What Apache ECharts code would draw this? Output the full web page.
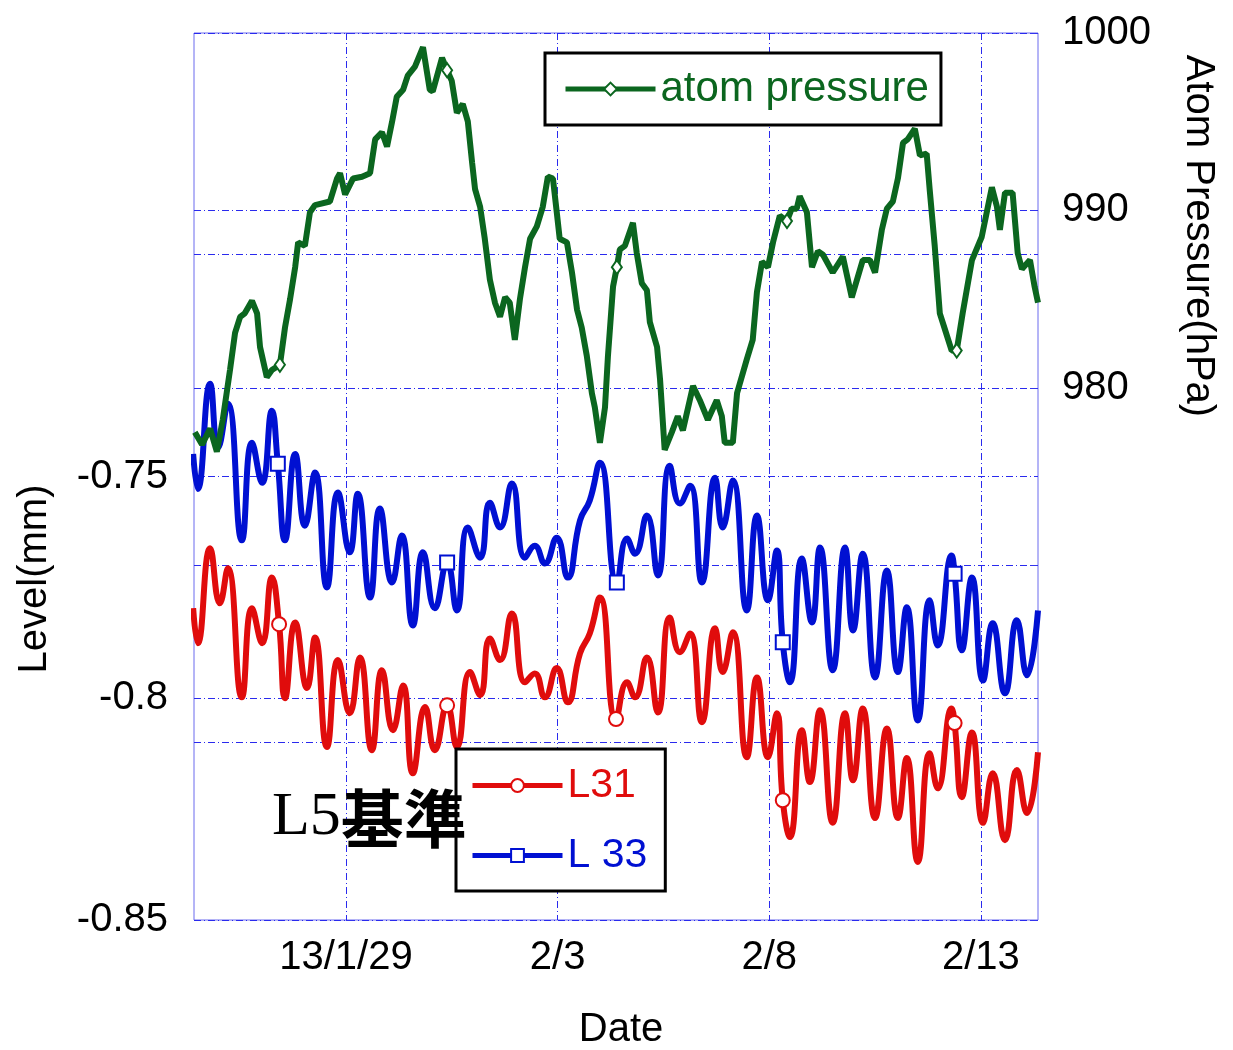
<!DOCTYPE html>
<html>
<head>
<meta charset="utf-8">
<title>Level / Atom Pressure</title>
<script src="https://cdn.jsdelivr.net/npm/echarts@6/dist/echarts.min.js"></script>
<style>
  html, body { margin: 0; padding: 0; background: #fff; }
  #chart { width: 1233px; height: 1050px; }
</style>
</head>
<body>
<div id="chart"></div>
<script>
// x values: days counted from 2013/1/29 00:00
var dateTicks = [0, 5, 10, 15];
var dateLabels = ['13/1/29', '2/3', '2/8', '2/13'];
var levelLabelValues = [-0.85, -0.8, -0.75];
var pressureLabelValues = [980, 990, 1000];
var markerDays = [-1.57, 2.4, 6.4, 10.35, 14.4];

// atom pressure (hPa)
var pressure = [
  [-3.57, 977.5], [-3.40, 976.8], [-3.21, 977.7], [-3.05, 976.4], [-2.91, 978.2], [-2.74, 981.0],
  [-2.62, 983.1], [-2.50, 984.0], [-2.39, 984.2], [-2.22, 984.9], [-2.10, 984.2], [-2.03, 982.3],
  [-1.87, 980.6], [-1.75, 981.0], [-1.56, 981.3], [-1.44, 983.4], [-1.32, 985.0], [-1.20, 986.8],
  [-1.13, 988.2], [-0.97, 988.0], [-0.85, 989.9], [-0.73, 990.3], [-0.38, 990.5], [-0.21, 991.8],
  [-0.14, 992.1], [-0.02, 990.9], [0.17, 991.8], [0.38, 991.9], [0.57, 992.1], [0.69, 994.0],
  [0.85, 994.4], [0.97, 993.6], [1.09, 995.0], [1.20, 996.4], [1.35, 996.8], [1.46, 997.6],
  [1.63, 998.1], [1.82, 999.2], [1.98, 996.8], [2.05, 996.7], [2.27, 998.6], [2.39, 997.9],
  [2.50, 997.3], [2.62, 995.5], [2.76, 996.0], [2.88, 995.0], [2.98, 992.7], [3.05, 991.2],
  [3.17, 990.2], [3.28, 988.4], [3.40, 986.1], [3.52, 984.8], [3.64, 984.0], [3.76, 985.1],
  [3.87, 984.8], [3.99, 982.7], [4.11, 985.0], [4.23, 986.8], [4.35, 988.4], [4.51, 989.1],
  [4.65, 990.2], [4.77, 991.9], [4.89, 991.8], [4.98, 989.9], [5.05, 988.4], [5.22, 988.2],
  [5.34, 986.5], [5.46, 984.4], [5.57, 983.4], [5.69, 981.8], [5.81, 979.7], [5.88, 978.9],
  [6.00, 976.9], [6.12, 978.9], [6.19, 981.8], [6.31, 985.7], [6.40, 986.8], [6.47, 987.8],
  [6.59, 988.0], [6.78, 989.3], [6.87, 987.6], [6.99, 985.9], [7.11, 985.5], [7.18, 983.7],
  [7.35, 982.3], [7.42, 980.5], [7.53, 976.5], [7.70, 977.5], [7.84, 978.4], [7.96, 977.6],
  [8.20, 980.1], [8.36, 979.3], [8.55, 978.2], [8.76, 979.3], [8.88, 978.4], [8.95, 976.9],
  [9.14, 976.9], [9.24, 979.7], [9.47, 981.6], [9.61, 982.7], [9.71, 985.4], [9.83, 987.1],
  [9.97, 986.8], [10.09, 988.2], [10.25, 989.7], [10.42, 989.4], [10.53, 990.1], [10.65, 990.1],
  [10.72, 990.8], [10.89, 989.9], [11.01, 986.8], [11.15, 987.7], [11.27, 987.5], [11.50, 986.5],
  [11.74, 987.4], [11.95, 985.1], [12.21, 987.2], [12.38, 987.2], [12.50, 986.5], [12.66, 988.9],
  [12.78, 990.1], [12.92, 990.5], [13.04, 991.8], [13.16, 993.8], [13.27, 994.0], [13.44, 994.6],
  [13.56, 993.1], [13.72, 993.2], [13.79, 991.2], [13.91, 988.0], [14.03, 984.2], [14.15, 983.3],
  [14.31, 982.1], [14.43, 982.1], [14.57, 984.2], [14.79, 987.2], [15.02, 988.5], [15.14, 989.9],
  [15.26, 991.3], [15.38, 990.2], [15.45, 988.9], [15.57, 991.0], [15.75, 991.0], [15.87, 987.6],
  [15.97, 986.7], [16.16, 987.2], [16.27, 985.7], [16.35, 984.8]
];

// L 33 level (mm)
var l33 = [
  [-3.61, -0.7449], [-3.50, -0.7528], [-3.21, -0.7291], [-3.02, -0.7435], [-2.79, -0.7336],
  [-2.46, -0.7644], [-2.22, -0.7424], [-1.98, -0.7514], [-1.75, -0.7352], [-1.61, -0.7471],
  [-1.44, -0.7644], [-1.20, -0.7449], [-0.97, -0.7611], [-0.73, -0.7491], [-0.45, -0.7750],
  [-0.19, -0.7536], [0.09, -0.7671], [0.28, -0.7539], [0.57, -0.7773], [0.80, -0.7572],
  [1.09, -0.7739], [1.32, -0.7633], [1.58, -0.7836], [1.82, -0.7671], [2.10, -0.7797],
  [2.39, -0.7694], [2.62, -0.7802], [2.88, -0.7615], [3.17, -0.7683], [3.40, -0.7559],
  [3.64, -0.7615], [3.92, -0.7516], [4.23, -0.7683], [4.46, -0.7656], [4.70, -0.7696],
  [4.98, -0.7638], [5.24, -0.7728], [5.53, -0.7599], [5.76, -0.7554], [6.00, -0.7469],
  [6.40, -0.7739], [6.64, -0.7640], [6.83, -0.7674], [7.11, -0.7588], [7.37, -0.7723],
  [7.65, -0.7476], [7.89, -0.7561], [8.13, -0.7521], [8.41, -0.7739], [8.72, -0.7503],
  [8.90, -0.7615], [9.14, -0.7509], [9.47, -0.7802], [9.71, -0.7588], [9.97, -0.7779],
  [10.18, -0.7667], [10.32, -0.7874], [10.49, -0.7964], [10.77, -0.7685], [11.01, -0.7829],
  [11.20, -0.7660], [11.50, -0.7937], [11.79, -0.7660], [11.98, -0.7847], [12.21, -0.7674],
  [12.50, -0.7953], [12.78, -0.7712], [13.04, -0.7941], [13.25, -0.7795], [13.51, -0.8050],
  [13.79, -0.7779], [13.98, -0.7881], [14.31, -0.7678], [14.38, -0.7719], [14.55, -0.7892],
  [14.79, -0.7728], [15.05, -0.7960], [15.28, -0.7831], [15.57, -0.7989], [15.85, -0.7824],
  [16.09, -0.7948], [16.35, -0.7802]
];

// L31 level (mm)
var l31 = [
  [-3.61, -0.7797], [-3.50, -0.7876], [-3.21, -0.7662], [-2.98, -0.7786], [-2.79, -0.7707],
  [-2.46, -0.7998], [-2.22, -0.7797], [-1.98, -0.7876], [-1.75, -0.7728], [-1.58, -0.7833],
  [-1.44, -0.8000], [-1.20, -0.7829], [-0.92, -0.7977], [-0.73, -0.7863], [-0.45, -0.8110],
  [-0.19, -0.7914], [0.09, -0.8034], [0.33, -0.7908], [0.61, -0.8117], [0.85, -0.7937],
  [1.11, -0.8072], [1.35, -0.7971], [1.58, -0.8169], [1.87, -0.8020], [2.10, -0.8117],
  [2.39, -0.8016], [2.62, -0.8110], [2.93, -0.7941], [3.17, -0.7993], [3.40, -0.7865],
  [3.64, -0.7914], [3.92, -0.7809], [4.23, -0.7964], [4.46, -0.7944], [4.70, -0.7998],
  [4.98, -0.7932], [5.24, -0.8009], [5.53, -0.7899], [5.76, -0.7854], [6.00, -0.7773],
  [6.38, -0.8047], [6.64, -0.7964], [6.83, -0.7998], [7.11, -0.7908], [7.37, -0.8032],
  [7.65, -0.7818], [7.89, -0.7896], [8.13, -0.7854], [8.41, -0.8054], [8.72, -0.7842],
  [8.90, -0.7941], [9.14, -0.7851], [9.47, -0.8133], [9.71, -0.7953], [9.97, -0.8133],
  [10.18, -0.8034], [10.32, -0.8230], [10.49, -0.8313], [10.77, -0.8072], [10.96, -0.8189],
  [11.20, -0.8027], [11.50, -0.8281], [11.79, -0.8034], [11.98, -0.8185], [12.21, -0.8023],
  [12.50, -0.8270], [12.78, -0.8068], [13.04, -0.8270], [13.25, -0.8135], [13.51, -0.8369],
  [13.79, -0.8124], [13.98, -0.8203], [14.31, -0.8023], [14.38, -0.8056], [14.55, -0.8223],
  [14.79, -0.8077], [15.05, -0.8281], [15.28, -0.8169], [15.57, -0.8320], [15.85, -0.8162],
  [16.09, -0.8259], [16.35, -0.8122]
];

var GREEN = '#0b661f';
var RED = '#e00c0c';
var BLUE = '#0010d2';
var GRIDBLUE = '#2a2aee';
var FONT = "'Liberation Sans', Arial, sans-serif";

// only a few points carry a hollow marker
function withMarkers(points, symbol) {
  var marked = markerDays.map(function (d) {
    var best = 0;
    points.forEach(function (p, i) {
      if (Math.abs(p[0] - d) < Math.abs(points[best][0] - d)) best = i;
    });
    return best;
  });
  return points.map(function (p, i) {
    return { value: p, symbol: marked.indexOf(i) >= 0 ? symbol : 'none' };
  });
}

var splitStyle = { show: true, lineStyle: { color: GRIDBLUE, width: 1, type: [7, 3, 1, 3] } };

var chart = echarts.init(document.getElementById('chart'));
chart.setOption({
  animation: false,
  backgroundColor: '#fff',
  grid: {
    left: 194, right: 195, top: 33, bottom: 130,
    show: true, borderColor: '#6a6aee', borderWidth: 1
  },
  xAxis: {
    type: 'value',
    min: -3.59,
    max: 16.35,
    axisLine: { show: false },
    axisTick: { show: false, customValues: dateTicks },
    axisLabel: {
      customValues: dateTicks,
      formatter: function (v) { return dateLabels[dateTicks.indexOf(v)]; },
      fontSize: 40, fontFamily: FONT, color: '#000', margin: 18
    },
    splitLine: splitStyle
  },
  yAxis: [
    {
      type: 'value',
      min: -0.85, max: -0.65, interval: 0.05,
      axisLine: { show: false },
      axisTick: { show: true, inside: true, length: 8, lineStyle: { color: '#3333ee' } },
      axisLabel: {
        customValues: levelLabelValues,
        formatter: function (v) { return String(v); },
        fontSize: 40, fontFamily: FONT, color: '#000', margin: 26
      },
      splitLine: splitStyle
    },
    {
      type: 'value',
      min: 950, max: 1000, interval: 10,
      position: 'right',
      axisLine: { show: false },
      axisTick: { show: true, inside: true, length: 8, lineStyle: { color: '#3333ee' } },
      axisLabel: {
        customValues: pressureLabelValues,
        formatter: function (v) { return String(v); },
        fontSize: 40, fontFamily: FONT, color: '#000', margin: 24
      },
      splitLine: splitStyle
    }
  ],
  legend: [
    {
      data: [{ name: 'atom pressure', textStyle: { color: GREEN } }],
      left: 545, top: 53,
      backgroundColor: '#fff', borderColor: '#000', borderWidth: 3,
      padding: [15, 12, 15, 18],
      itemWidth: 90, itemHeight: 16,
      lineStyle: { width: 5 },
      textStyle: { fontSize: 42, fontFamily: FONT }
    },
    {
      data: [
        { name: 'L31', textStyle: { color: RED } },
        { name: 'L 33', textStyle: { color: BLUE } }
      ],
      orient: 'vertical',
      left: 456, top: 749,
      backgroundColor: '#fff', borderColor: '#000', borderWidth: 3,
      padding: [16, 18, 15, 14],
      itemGap: 29,
      itemWidth: 90, itemHeight: 16,
      lineStyle: { width: 5 },
      textStyle: { fontSize: 41, fontFamily: FONT }
    }
  ],
  graphic: [
    {
      type: 'text', x: 35, y: 579, rotation: Math.PI / 2,
      style: { text: 'Level(mm)', fontSize: 40, fontFamily: FONT, fill: '#000', align: 'center', verticalAlign: 'middle' }
    },
    {
      type: 'text', x: 1198, y: 236, rotation: -Math.PI / 2,
      style: { text: 'Atom Pressure(hPa)', fontSize: 40, fontFamily: FONT, fill: '#000', align: 'center', verticalAlign: 'middle' }
    },
    {
      type: 'text', x: 621, y: 1030,
      style: { text: 'Date', fontSize: 40, fontFamily: FONT, fill: '#000', align: 'center', verticalAlign: 'middle' }
    },
    {
      type: 'text', x: 272, y: 818, z: 100,
      style: {
        text: '{a|L5}{b|基準}',
        verticalAlign: 'middle',
        rich: {
          a: { fontSize: 62, fontFamily: "'Liberation Serif', 'Times New Roman', serif", fill: '#000' },
          b: { fontSize: 63, fontWeight: 'bold', fontFamily: "'Noto Sans CJK JP', sans-serif", fill: '#000' }
        }
      }
    }
  ],
  series: [
    {
      name: 'L31', type: 'line', yAxisIndex: 0,
      data: withMarkers(l31, 'emptyCircle'),
      symbol: 'emptyCircle', symbolSize: 14, showAllSymbol: true,
      smooth: 0.5,
      lineStyle: { color: RED, width: 6 },
      itemStyle: { color: RED, borderWidth: 1 }
    },
    {
      name: 'L 33', type: 'line', yAxisIndex: 0,
      data: withMarkers(l33, 'emptyRect'),
      symbol: 'emptyRect', symbolSize: 14, showAllSymbol: true,
      smooth: 0.5,
      lineStyle: { color: BLUE, width: 6 },
      itemStyle: { color: BLUE, borderWidth: 1 }
    },
    {
      name: 'atom pressure', type: 'line', yAxisIndex: 1,
      data: withMarkers(pressure, 'emptyDiamond'),
      symbol: 'emptyDiamond', symbolSize: [10, 14], showAllSymbol: true,
      lineStyle: { color: GREEN, width: 6 },
      itemStyle: { color: GREEN, borderWidth: 1 }
    }
  ]
});
</script>
</body>
</html>
